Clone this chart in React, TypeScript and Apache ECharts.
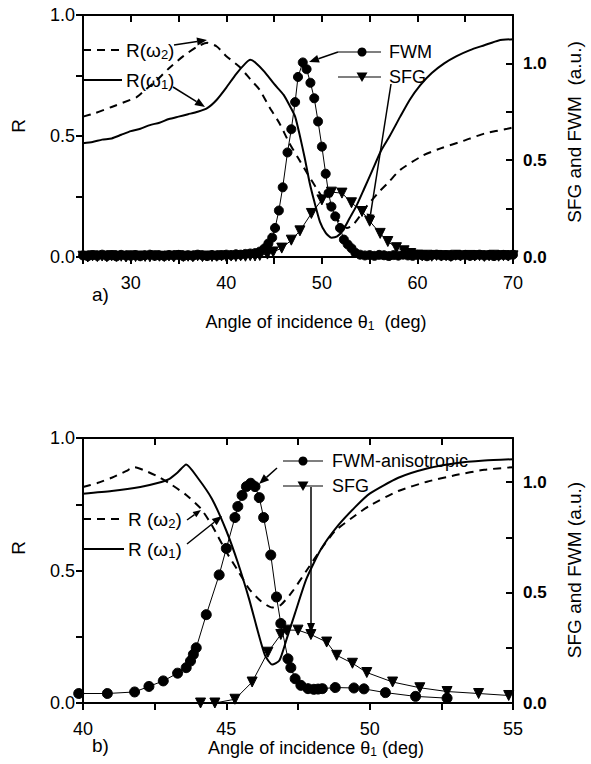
import React, { useEffect, useRef } from "react";
import * as echarts from "echarts";

// ---------- Panel a) ----------
const aR1X = [25, 26, 27, 28, 29, 30, 31, 32, 33, 34, 35, 36, 37, 38, 39, 40, 41, 42, 42.5, 43, 44, 45, 46, 46.7, 47.2, 47.7, 48.2, 48.7, 49.2, 49.8, 50.4, 51.0, 51.6, 52.2, 52.9, 53.6, 54.4, 55.3, 56.2, 57.1, 58.2, 59.2, 60.3, 61.5, 62.8, 64.1, 65.5, 67, 68.5, 70];
const aR1Y = [0.47, 0.475, 0.485, 0.49, 0.505, 0.52, 0.53, 0.545, 0.555, 0.57, 0.58, 0.59, 0.6, 0.615, 0.65, 0.7, 0.755, 0.8, 0.815, 0.805, 0.765, 0.715, 0.67, 0.62, 0.58, 0.5, 0.41, 0.31, 0.23, 0.145, 0.1, 0.08, 0.085, 0.11, 0.16, 0.21, 0.28, 0.36, 0.44, 0.5, 0.58, 0.65, 0.71, 0.76, 0.8, 0.83, 0.855, 0.875, 0.895, 0.9];

const aR2X = [25, 26.3, 28, 30, 30.6, 31.5, 32.7, 34, 35.5, 37, 38, 39, 40, 41.4, 42.5, 43.5, 44.5, 45.6, 46.6, 47.5, 48.4, 49.5, 50.5, 51.9, 52.6, 53.2, 54, 54.7, 56, 57, 58.2, 60.6, 62.5, 64.8, 67, 69.4, 70];
const aR2Y = [0.58, 0.595, 0.62, 0.65, 0.66, 0.69, 0.73, 0.78, 0.83, 0.87, 0.885, 0.87, 0.83, 0.785, 0.735, 0.69, 0.62, 0.55, 0.47, 0.41, 0.35, 0.28, 0.22, 0.14, 0.12, 0.13, 0.17, 0.21, 0.27, 0.31, 0.36, 0.42, 0.45, 0.48, 0.51, 0.53, 0.535];

const aFwmX = [25, 25.5, 26, 26.5, 27, 27.5, 28, 28.5, 29, 29.5, 30, 30.5, 31, 31.5, 32, 32.5, 33, 33.5, 34, 34.5, 35, 35.5, 36, 36.5, 37, 37.5, 38, 38.5, 39, 39.5, 40, 40.5, 41, 41.5, 42, 42.5, 43,
  43.5, 44.0, 44.4, 44.8, 45.1, 45.5, 45.9, 46.4, 46.8, 47.2, 47.5, 48.0, 48.4, 48.8, 49.2, 49.6, 50.0, 50.4, 50.7, 51.0, 51.4, 51.9, 52.3, 52.7, 53.1, 53.5,
  54, 54.5, 55, 55.5, 56, 56.5, 57, 57.5, 58, 58.5, 59, 59.5, 60, 60.5, 61, 61.5, 62, 62.5, 63, 63.5, 64, 64.5, 65, 65.5, 66, 66.5, 67, 67.5, 68, 68.5, 69, 69.5, 70];
const aFwmY = [0.008, 0.004, 0.01, 0.006, 0.012, 0.005, 0.009, 0.003, 0.011, 0.007, 0.006, 0.01, 0.004, 0.009, 0.012, 0.006, 0.008, 0.005, 0.01, 0.007, 0.011, 0.004, 0.009, 0.006, 0.012, 0.008, 0.005, 0.01, 0.007, 0.009, 0.012, 0.01, 0.014, 0.012, 0.016, 0.018, 0.02,
  0.028, 0.045, 0.07, 0.1, 0.15, 0.24, 0.36, 0.54, 0.66, 0.8, 0.93, 1.005, 0.97, 0.9, 0.82, 0.7, 0.57, 0.43, 0.33, 0.26, 0.21, 0.15, 0.09, 0.065, 0.045, 0.022,
  0.012, 0.008, 0.01, 0.006, 0.011, 0.009, 0.005, 0.01, 0.007, 0.012, 0.008, 0.006, 0.011, 0.009, 0.004, 0.01, 0.012, 0.007, 0.009, 0.005, 0.01, 0.008, 0.011, 0.006, 0.009, 0.012, 0.007, 0.01, 0.005, 0.009, 0.011, 0.008, 0.012];

const aSfgX = [25, 25.5, 26, 26.5, 27, 27.5, 28, 28.5, 29, 29.5, 30, 30.5, 31, 31.5, 32, 32.5, 33, 33.5, 34, 34.5, 35, 35.5, 36, 36.5, 37, 37.5, 38, 38.5, 39, 39.5, 40, 40.5, 41, 41.5, 42, 42.5, 43, 43.5,
  44.3, 44.9, 45.8, 46.8, 47.7, 48.9, 50.0, 51.0, 52.1, 53.1, 54.2, 55.0, 56.1, 56.9, 57.8, 58.6, 59.3,
  60, 60.5, 61, 61.5, 62, 62.5, 63, 63.5, 64, 64.5, 65, 65.5, 66, 66.5, 67, 67.5, 68, 68.5, 69, 69.5, 70];
const aSfgY = [0.004, 0.0, 0.006, 0.002, 0.005, 0.001, 0.007, 0.003, 0.004, 0.0, 0.006, 0.002, 0.005, 0.003, 0.001, 0.006, 0.004, 0.002, 0.005, 0.0, 0.007, 0.003, 0.004, 0.001, 0.006, 0.002, 0.005, 0.003, 0.004, 0.006, 0.002, 0.005, 0.003, 0.006, 0.004, 0.007, 0.005, 0.008,
  0.015, 0.026, 0.046, 0.087, 0.135, 0.225, 0.295, 0.335, 0.33, 0.28, 0.235, 0.185, 0.122, 0.08, 0.048, 0.032, 0.018,
  0.01, 0.006, 0.009, 0.004, 0.008, 0.005, 0.007, 0.003, 0.009, 0.006, 0.004, 0.008, 0.005, 0.007, 0.003, 0.006, 0.009, 0.004, 0.007, 0.005, 0.006];

// ---------- Panel b) ----------
const bR1X = [40, 41, 42, 42.6, 43, 43.3, 43.6, 44, 44.5, 45, 45.4, 45.8, 46.1, 46.35, 46.6, 46.85, 47.1, 47.4, 47.8, 48.3, 48.9, 49.5, 50, 51, 52, 53, 54, 55];
const bR1Y = [0.79, 0.8, 0.815, 0.83, 0.845, 0.87, 0.9, 0.85, 0.77, 0.65, 0.53, 0.39, 0.27, 0.18, 0.145, 0.16, 0.24, 0.34, 0.47, 0.58, 0.67, 0.74, 0.79, 0.85, 0.885, 0.905, 0.915, 0.92];

const bR2X = [40, 40.5, 41, 41.5, 41.8, 42.2, 42.6, 43, 43.6, 44.1, 44.5, 45, 45.4, 45.8, 46.2, 46.6, 46.9, 47.3, 47.8, 48.3, 48.8, 49.4, 50, 51, 52, 53, 54, 55];
const bR2Y = [0.815, 0.83, 0.85, 0.875, 0.89, 0.875, 0.855, 0.83, 0.785, 0.735, 0.67, 0.57, 0.5, 0.43, 0.385, 0.36, 0.37, 0.42, 0.5, 0.58, 0.65, 0.7, 0.745, 0.8, 0.835, 0.86, 0.88, 0.89];

const bFwmX = [39.85, 40.85, 41.8, 42.3, 42.8, 43.3, 43.6, 43.75, 43.85, 43.95, 44.3, 44.75, 45.0, 45.3, 45.4, 45.55, 45.7, 45.85, 46.0, 46.15, 46.3, 46.55, 46.75, 46.9, 47.15, 47.25, 47.4, 47.6, 47.85, 48.05, 48.2, 48.35, 48.8, 49.45, 49.8, 50.55, 51.6, 52.7];
const bFwmY = [0.043, 0.043, 0.05, 0.075, 0.1, 0.135, 0.16, 0.19, 0.22, 0.25, 0.4, 0.58, 0.7, 0.84, 0.89, 0.94, 0.98, 0.995, 0.98, 0.93, 0.84, 0.67, 0.48, 0.36, 0.2, 0.16, 0.11, 0.08, 0.065, 0.062, 0.063, 0.065, 0.07, 0.068, 0.064, 0.047, 0.03, 0.022];

const bSfgX = [44.1, 44.6, 45.3, 45.9, 46.45, 46.9, 47.1, 47.5, 47.95, 48.5, 48.85, 49.4, 49.9, 50.8, 51.75, 52.7, 53.8, 54.85];
const bSfgY = [0, 0, 0.017, 0.095, 0.23, 0.31, 0.33, 0.33, 0.31, 0.276, 0.216, 0.18, 0.138, 0.095, 0.069, 0.052, 0.043, 0.034];

// ---------- Tick labels ----------
const rTickLabels = [0, 0.5, 1.0];
const aXTickLabels = [30, 40, 50, 60, 70];
const bXTickLabels = [40, 45, 50, 55];

const FONT = "'Liberation Sans', Arial, Helvetica, sans-serif";

function pairs(xs: number[], ys: number[]) {
  return xs.map((x, i) => [x, ys[i]]);
}

function arrow(x1: number, y1: number, x2: number, y2: number, head = 10): any[] {
  const dx = x2 - x1;
  const dy = y2 - y1;
  const len = Math.sqrt(dx * dx + dy * dy);
  const ux = dx / len;
  const uy = dy / len;
  const bx = x2 - ux * head;
  const by = y2 - uy * head;
  const w = head * 0.4;
  return [
    { type: "line", shape: { x1, y1, x2: bx, y2: by }, style: { stroke: "#000", lineWidth: 1.5 }, z: 100 },
    {
      type: "polygon",
      shape: { points: [[x2, y2], [bx - uy * w, by + ux * w], [bx + uy * w, by - ux * w]] },
      style: { fill: "#000" },
      z: 100,
    },
  ];
}

function text(x: number, y: number, t: string, opts: any = {}) {
  const size = opts.size || 18;
  return {
    type: "text",
    x,
    y,
    rotation: opts.rotation || 0,
    z: 100,
    style: {
      text: t,
      font: `${opts.weight || "normal"} ${size}px ${FONT}`,
      fill: "#000",
      align: opts.align || "left",
      verticalAlign: "middle",
      rich: {
        s: { font: `${size - 6}px ${FONT}`, verticalAlign: "bottom", padding: [8, 0, 0, 0], fill: "#000" },
      },
    },
  };
}

export default function App() {
  const ref = useRef<HTMLDivElement>(null);
  useEffect(() => {
    const chart = echarts.init(ref.current as HTMLDivElement, null, { renderer: "svg" });
    const axisLine = { show: true, onZero: false, lineStyle: { color: "#000", width: 2 } };
    const tickOut = { show: true, inside: false, length: 7, lineStyle: { color: "#000", width: 2 } };
    const tickIn = { show: true, inside: true, length: 7, lineStyle: { color: "#000", width: 2 } };
    const xLabel = (list: number[]) => ({
      show: true,
      color: "#000",
      fontSize: 18,
      fontFamily: FONT,
      margin: 17,
      formatter: (v: number) => (list.some((t) => Math.abs(t - v) < 1e-6) ? String(v) : ""),
    });
    const yLabel = (bold: boolean) => ({
      show: true,
      color: "#000",
      fontSize: bold ? 17 : 18,
      fontWeight: bold ? "bold" : "normal",
      fontFamily: FONT,
      margin: bold ? 10 : 8,
      formatter: (v: number) => (rTickLabels.some((t) => Math.abs(t - v) < 1e-6) ? v.toFixed(1) : ""),
    });
    const noSplit = { show: false };

    const curve = (name: string, xi: number, yi: number, xs: number[], ys: number[], dashed: boolean) => ({
      name,
      type: "line",
      xAxisIndex: xi,
      yAxisIndex: yi,
      data: pairs(xs, ys),
      showSymbol: false,
      symbol: "none",
      smooth: 0.2,
      lineStyle: { color: "#000", width: 2, type: dashed ? [8, 6] : "solid" },
      z: 2,
    });
    const marks = (name: string, xi: number, yi: number, xs: number[], ys: number[], tri: boolean, size: number) => ({
      name,
      type: "line",
      xAxisIndex: xi,
      yAxisIndex: yi,
      data: pairs(xs, ys),
      symbol: tri ? "triangle" : "circle",
      symbolRotate: tri ? 180 : 0,
      symbolSize: size,
      showSymbol: true,
      showAllSymbol: true,
      clip: false,
      itemStyle: { color: "#000", borderColor: "#000" },
      lineStyle: { color: "#000", width: 1 },
      z: 3,
    });

    const graphics: any[] = [
      // Panel a labels
      text(18, 126, "R", { rotation: Math.PI / 2, align: "center", size: 19 }),
      text(574, 132, "SFG and FWM  (a.u.)", { rotation: Math.PI / 2, align: "center", size: 19 }),
      text(92, 294, "a)", { size: 19 }),
      text(316, 322, "Angle of incidence θ{s|1}  (deg)", { align: "center", size: 18 }),
      // Panel a legend
      { type: "line", shape: { x1: 83, y1: 50, x2: 121, y2: 50 }, style: { stroke: "#000", lineWidth: 2, lineDash: [8, 6] }, z: 100 },
      text(126, 50, "R(ω{s|2})", { size: 19 }),
      { type: "line", shape: { x1: 83, y1: 80, x2: 122, y2: 80 }, style: { stroke: "#000", lineWidth: 2 }, z: 100 },
      text(126, 80, "R(ω{s|1})", { size: 19 }),
      ...arrow(174, 45, 207, 40),
      ...arrow(173, 87, 205, 107),
      { type: "line", shape: { x1: 338, y1: 52, x2: 381, y2: 52 }, style: { stroke: "#000", lineWidth: 1.2 }, z: 100 },
      { type: "circle", shape: { cx: 362, cy: 52, r: 4.5 }, style: { fill: "#000" }, z: 100 },
      text(389, 52, "FWM", { size: 18 }),
      ...arrow(338, 52, 309, 62),
      { type: "line", shape: { x1: 338, y1: 77, x2: 381, y2: 77 }, style: { stroke: "#000", lineWidth: 1.2 }, z: 100 },
      { type: "polygon", shape: { points: [[356.5, 72.5], [367.5, 72.5], [362, 82]] }, style: { fill: "#000" }, z: 100 },
      text(389, 77, "SFG", { size: 18 }),
      ...arrow(391, 84, 369, 224),
      // Panel b labels
      text(18, 548, "R", { rotation: Math.PI / 2, align: "center", size: 19 }),
      text(574, 570, "SFG and FWM (a.u.)", { rotation: Math.PI / 2, align: "center", size: 19 }),
      text(92, 745, "b)", { size: 19 }),
      text(316, 748, "Angle of incidence θ{s|1} (deg)", { align: "center", size: 18 }),
      // Panel b legend
      { type: "line", shape: { x1: 83, y1: 519, x2: 121, y2: 519 }, style: { stroke: "#000", lineWidth: 2, lineDash: [8, 6] }, z: 100 },
      text(128, 519, "R (ω{s|2})", { size: 19 }),
      { type: "line", shape: { x1: 83, y1: 549, x2: 124, y2: 549 }, style: { stroke: "#000", lineWidth: 2 }, z: 100 },
      text(128, 549, "R (ω{s|1})", { size: 19 }),
      ...arrow(187, 520, 201, 510, 8),
      ...arrow(187, 544, 222, 516),
      { type: "line", shape: { x1: 283, y1: 461, x2: 323, y2: 461 }, style: { stroke: "#000", lineWidth: 1.2 }, z: 100 },
      { type: "circle", shape: { cx: 303, cy: 461, r: 4.5 }, style: { fill: "#000" }, z: 100 },
      text(332, 461, "FWM-anisotropic", { size: 18 }),
      ...arrow(277, 468, 259, 484),
      { type: "line", shape: { x1: 283, y1: 486, x2: 323, y2: 486 }, style: { stroke: "#000", lineWidth: 1.2 }, z: 100 },
      { type: "polygon", shape: { points: [[297.5, 481.5], [308.5, 481.5], [303, 491]] }, style: { fill: "#000" }, z: 100 },
      text(332, 486, "SFG", { size: 18 }),
      ...arrow(311, 487, 311, 633),
    ];

    const option: any = {
      animation: false,
      backgroundColor: "#fff",
      grid: [
        { left: 83, top: 15, width: 430, height: 242, containLabel: false },
        { left: 83, top: 438, width: 430, height: 265, containLabel: false },
      ],
      xAxis: [
        { type: "value", gridIndex: 0, position: "bottom", min: 25, max: 70, interval: 5, axisLine, axisTick: tickOut, axisLabel: xLabel(aXTickLabels), splitLine: noSplit },
        { type: "value", gridIndex: 0, position: "top", min: 25, max: 70, interval: 5, axisLine, axisTick: tickIn, axisLabel: { show: false }, splitLine: noSplit },
        { type: "value", gridIndex: 1, position: "bottom", min: 40, max: 55, interval: 2.5, axisLine, axisTick: tickOut, axisLabel: xLabel(bXTickLabels), splitLine: noSplit },
        { type: "value", gridIndex: 1, position: "top", min: 40, max: 55, interval: 2.5, axisLine, axisTick: tickIn, axisLabel: { show: false }, splitLine: noSplit },
      ],
      yAxis: [
        { type: "value", gridIndex: 0, position: "left", min: 0, max: 1, interval: 0.25, axisLine, axisTick: tickOut, axisLabel: yLabel(false), splitLine: noSplit },
        { type: "value", gridIndex: 0, position: "right", min: 0, max: 1.25, interval: 0.25, axisLine, axisTick: tickIn, axisLabel: yLabel(true), splitLine: noSplit },
        { type: "value", gridIndex: 1, position: "left", min: 0, max: 1, interval: 0.25, axisLine, axisTick: tickOut, axisLabel: yLabel(false), splitLine: noSplit },
        { type: "value", gridIndex: 1, position: "right", min: 0, max: 1.2, interval: 0.25, axisLine, axisTick: tickIn, axisLabel: yLabel(true), splitLine: noSplit },
      ],
      series: [
        curve("R(ω1) a", 0, 0, aR1X, aR1Y, false),
        curve("R(ω2) a", 0, 0, aR2X, aR2Y, true),
        marks("FWM a", 0, 1, aFwmX, aFwmY, false, 9),
        marks("SFG a", 0, 1, aSfgX, aSfgY, true, 10),
        curve("R(ω1) b", 2, 2, bR1X, bR1Y, false),
        curve("R(ω2) b", 2, 2, bR2X, bR2Y, true),
        marks("FWM b", 2, 3, bFwmX, bFwmY, false, 10),
        marks("SFG b", 2, 3, bSfgX, bSfgY, true, 10),
      ],
      graphic: graphics,
    };
    chart.setOption(option);
    return () => chart.dispose();
  }, []);
  return (
    <div
      ref={ref}
      style={{ position: "fixed", left: 0, top: 0, width: 591, height: 764, background: "#fff" }}
    />
  );
}
